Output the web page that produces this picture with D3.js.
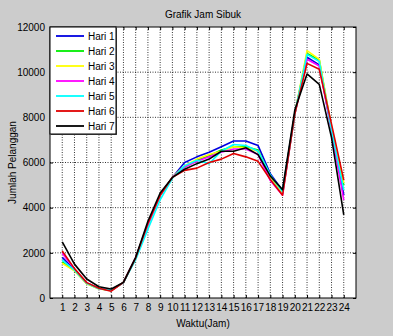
<!DOCTYPE html>
<html>
<head>
<meta charset="utf-8">
<script src="https://cdn.jsdelivr.net/npm/d3@7"></script>
<style>
  body { margin: 0; background: #cccccc; }
  svg { display: block; font-family: "Liberation Sans", Arial, sans-serif; }
</style>
</head>
<body>
<svg width="393" height="336"></svg>
<script>
// data
const hours = d3.range(1, 25);
const yTicks = [0, 2000, 4000, 6000, 8000, 10000, 12000];
const dayNames = ["Hari 1", "Hari 2", "Hari 3", "Hari 4", "Hari 5", "Hari 6", "Hari 7"];
const dayColors = ["#0000e0", "#00ee00", "#ffff00", "#ff00ff", "#00ffff", "#e00000", "#000000"];

const hari1 = [1800, 1250, 660, 420, 340, 690, 1780, 3250, 4550, 5340, 6000, 6250, 6450, 6700, 6950, 6950, 6750, 5500, 4750, 8150, 10660, 10320, 7450, 4550];
const hari2 = [1600, 1220, 640, 410, 340, 690, 1770, 3250, 4550, 5340, 5800, 6100, 6300, 6550, 6700, 6700, 6550, 5400, 4650, 8150, 10830, 10540, 7500, 5000];
const hari3 = [1540, 1200, 630, 400, 340, 690, 1770, 3250, 4550, 5340, 5850, 6150, 6350, 6500, 6700, 6650, 6500, 5400, 4650, 8150, 10950, 10570, 7550, 5100];
const hari4 = [1980, 1280, 670, 420, 330, 690, 1780, 3250, 4550, 5340, 5800, 6050, 6250, 6450, 6600, 6600, 6350, 5200, 4550, 8150, 10570, 10270, 7400, 4330];
const hari5 = [1680, 1230, 650, 410, 340, 680, 1700, 3050, 4350, 5300, 5850, 6100, 5950, 6500, 6800, 6750, 6500, 5450, 4700, 8150, 10790, 10470, 7450, 4780];
const hari6 = [2080, 1300, 680, 430, 300, 690, 1780, 3300, 4550, 5340, 5650, 5750, 6000, 6150, 6400, 6250, 6050, 5250, 4550, 8150, 10390, 10130, 7700, 5220];
const hari7 = [2490, 1500, 840, 500, 400, 690, 1800, 3400, 4650, 5340, 5700, 5950, 6150, 6500, 6500, 6650, 6350, 5400, 4800, 8320, 9920, 9460, 7100, 3680];
const series = [hari1, hari2, hari3, hari4, hari5, hari6, hari7];

const svg = d3.select("svg");
const mLeft = 50, mRight = 356, mTop = 27, mBottom = 298;

const x = d3.scaleLinear().domain([0, 25]).range([mLeft, mRight]);
const y = d3.scaleLinear().domain([0, 12000]).range([mBottom, mTop]);

// plot background
svg.append("rect")
  .attr("x", mLeft).attr("y", mTop)
  .attr("width", mRight - mLeft).attr("height", mBottom - mTop)
  .attr("fill", "#ffffff");

// grid
const grid = svg.append("g").attr("stroke", "#000").attr("stroke-width", 0.8).attr("stroke-dasharray", "1,1.5");
grid.selectAll(".vg").data(hours).enter().append("line")
  .attr("x1", d => x(d)).attr("x2", d => x(d))
  .attr("y1", mTop).attr("y2", mBottom);
grid.selectAll(".hg").data(yTicks.slice(1, -1)).enter().append("line")
  .attr("x1", mLeft).attr("x2", mRight)
  .attr("y1", d => y(d)).attr("y2", d => y(d));

// axes
const xAxis = d3.axisBottom(x).tickValues(hours).tickSize(-3).tickPadding(6).tickFormat(d3.format("d"));
const yAxis = d3.axisLeft(y).tickValues(yTicks).tickSize(-3).tickPadding(5).tickFormat(d3.format("d"));

svg.append("g").attr("transform", `translate(0,${mBottom})`).call(xAxis)
  .call(g => g.select(".domain").remove())
  .selectAll("text").attr("font-size", 10).attr("fill", "#000").attr("font-family", "Liberation Sans, Arial, sans-serif");
svg.append("g").attr("transform", `translate(${mLeft},0)`).call(yAxis)
  .call(g => g.select(".domain").remove())
  .selectAll("text").attr("font-size", 10).attr("fill", "#000").attr("font-family", "Liberation Sans, Arial, sans-serif");

// ticks on the other two sides
svg.append("g").attr("transform", `translate(${mRight},0)`)
  .call(d3.axisRight(y).tickValues(yTicks).tickSize(-3).tickFormat(""))
  .call(g => g.select(".domain").remove());
svg.append("g").attr("transform", `translate(0,${mTop})`)
  .call(d3.axisTop(x).tickValues(hours).tickSize(-3).tickFormat(""))
  .call(g => g.select(".domain").remove());

// lines
const line = d3.line().x((d, i) => x(hours[i])).y(d => y(d));
svg.append("g").selectAll("path").data(series).enter().append("path")
  .attr("d", line)
  .attr("fill", "none")
  .attr("stroke", (d, i) => dayColors[i])
  .attr("stroke-width", 1.6)
  .attr("stroke-linejoin", "round");

// frame
svg.append("rect")
  .attr("x", mLeft).attr("y", mTop)
  .attr("width", mRight - mLeft).attr("height", mBottom - mTop)
  .attr("fill", "none").attr("stroke", "#000").attr("stroke-width", 1);

// legend
const lg = svg.append("g").attr("transform", `translate(${mLeft},${mTop})`);
lg.append("rect").attr("x", 1).attr("y", 1).attr("width", 66).attr("height", 107)
  .attr("fill", "#555");
lg.append("rect").attr("x", 0).attr("y", 0).attr("width", 66).attr("height", 107)
  .attr("fill", "#fff").attr("stroke", "#000").attr("stroke-width", 1);
const items = lg.selectAll(".item").data(dayNames).enter().append("g")
  .attr("transform", (d, i) => `translate(0,${9 + i * 15})`);
items.append("line").attr("x1", 6).attr("x2", 34).attr("y1", 0).attr("y2", 0)
  .attr("stroke", (d, i) => dayColors[i]).attr("stroke-width", 1.8);
items.append("text").attr("x", 38).attr("y", 0).attr("dy", "0.35em")
  .attr("font-size", 10).text(d => d);

// labels
svg.append("text").attr("x", (mLeft + mRight) / 2).attr("y", 18)
  .attr("text-anchor", "middle").attr("font-size", 10).text("Grafik Jam Sibuk");
svg.append("text").attr("x", (mLeft + mRight) / 2).attr("y", 327)
  .attr("text-anchor", "middle").attr("font-size", 10).text("Waktu(Jam)");
svg.append("text").attr("transform", `translate(16,${(mTop + mBottom) / 2}) rotate(-90)`)
  .attr("text-anchor", "middle").attr("font-size", 10).text("Jumlah Pelanggan");
</script>
</body>
</html>
